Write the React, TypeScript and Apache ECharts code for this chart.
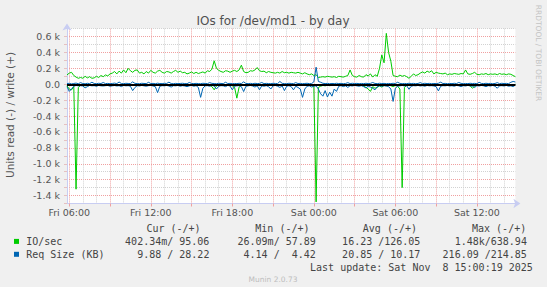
import React, { useEffect, useRef } from "react";
import * as echarts from "echarts";

// Time grid: 10-minute samples starting Fri 7 Nov 2025 05:50
const START_UTC = Date.UTC(2025, 10, 7, 5, 50);
const STEP_MINUTES = 10;
const DAY_NAMES = ["Sun", "Mon", "Tue", "Wed", "Thu", "Fri", "Sat"];

// IO/sec, write (+)
const ioWrite = [
  117, 140, 150, 110, 90, 75, 85, 75, 100, 80,
  95, 75, 80, 100, 85, 110, 95, 117, 105, 130,
  140, 160, 130, 165, 140, 180, 145, 200, 170, 150,
  175, 180, 140, 150, 130, 160, 140, 175, 150, 140,
  165, 175, 150, 140, 160, 155, 140, 160, 175, 150,
  165, 145, 150, 130, 140, 155, 135, 150, 135, 145,
  155, 140, 170, 160, 190, 295, 200, 175, 160, 150,
  170, 165, 150, 165, 175, 160, 180, 240, 160, 145,
  150, 170, 165, 180, 210, 170, 160, 165, 145, 160,
  150, 145, 140, 150, 140, 160, 145, 150, 140, 150,
  145, 140, 150, 140, 130, 145, 130, 120, 130, 110,
  120, 85, 90, 95, 90, 100, 95, 90, 95, 85,
  100, 95, 90, 100, 110, 180, 110, 95, 90, 110,
  95, 90, 120, 105, 130, 90, 120, 100, 200, 370,
  270, 640, 400, 290, 110, 100, 95, 115, 100, 110,
  95, 75, 100, 130, 110, 120, 140, 155, 140, 165,
  150, 170, 130, 150, 140, 135, 130, 140, 120, 130,
  125, 135, 130, 125, 135, 130, 180, 130, 125, 135,
  150, 125, 120, 130, 125, 135, 120, 130, 125, 130,
  120, 135, 125, 130, 120, 130, 125, 110, 95.06,
];

// IO/sec, read (-) — drawn below zero
const ioRead = [
  20, 60, 70, 30, 1320, 40, 15, 10, 20, 12,
  8, 15, 10, 18, 12, 9, 14, 10, 16, 12,
  8, 15, 11, 9, 14, 10, 13, 8, 12, 16,
  10, 9, 14, 11, 8, 12, 15, 10, 9, 13,
  11, 8, 12, 10, 14, 9, 12, 10, 15, 11,
  9, 13, 10, 12, 8, 14, 11, 9, 12, 15,
  10, 13, 9, 12, 30, 70, 20, 12, 10, 14,
  9, 12, 11, 20, 40, 175, 35, 14, 12, 9,
  13, 10, 12, 14, 11, 9, 13, 10, 12, 9,
  14, 11, 10, 13, 9, 12, 10, 14, 11, 9,
  12, 10, 13, 11, 15, 12, 10, 14, 20, 30,
  1480, 40, 25, 15, 20, 12, 18, 14, 10, 13,
  11, 9, 14, 10, 12, 9, 13, 11, 10, 14,
  12, 20, 40, 60, 90, 30, 50, 40, 20, 35,
  15, 20, 12, 18, 30, 15, 25, 60, 1300, 40,
  15, 12, 10, 14, 11, 9, 13, 10, 12, 9,
  14, 11, 10, 12, 9, 13, 11, 10, 14, 12,
  9, 11, 13, 10, 12, 9, 14, 11, 20, 50,
  25, 12, 10, 13, 9, 11, 14, 10, 12, 9,
  13, 11, 10, 12, 9, 14, 11, 10, 0.4,
];

// Req Size (KB), write (+)
const sizeWrite = [
  8, 12, 4.42, 10, 14, 7, 20, 9, 6, 12,
  8, 25, 10, 7, 12, 9, 22, 8, 11, 6,
  10, 14, 8, 28, 9, 7, 12, 10, 8, 30,
  11, 9, 7, 12, 10, 8, 24, 9, 11, 7,
  13, 9, 8, 12, 10, 26, 9, 7, 11, 8,
  10, 12, 9, 7, 22, 10, 8, 11, 9, 7,
  12, 10, 8, 20, 11, 9, 7, 12, 10, 8,
  25, 9, 11, 7, 10, 8, 12, 9, 30, 10,
  8, 11, 7, 12, 9, 10, 22, 8, 11, 9,
  7, 12, 10, 8, 35, 11, 9, 7, 12, 10,
  8, 20, 9, 11, 7, 10, 12, 8, 9, 30,
  215, 35, 25, 12, 9, 11, 7, 10, 8, 12,
  9, 11, 7, 10, 20, 8, 12, 9, 11, 7,
  10, 8, 12, 9, 11, 22, 10, 8, 12, 9,
  11, 7, 10, 8, 12, 9, 25, 11, 7, 10,
  8, 12, 9, 11, 7, 10, 20, 8, 12, 9,
  11, 7, 10, 8, 12, 26, 9, 11, 7, 10,
  8, 12, 9, 22, 11, 7, 10, 8, 12, 9,
  11, 7, 24, 10, 8, 12, 9, 11, 7, 10,
  20, 8, 12, 9, 11, 7, 25, 35, 28.22,
];

// Req Size (KB), read (-) — drawn below zero
const sizeRead = [
  30, 90, 60, 25, 15, 20, 18, 22, 45, 30,
  15, 20, 18, 25, 15, 20, 22, 18, 15, 25,
  20, 16, 22, 18, 30, 15, 20, 18, 25, 80,
  40, 18, 22, 15, 20, 25, 18, 15, 22, 30,
  105, 25, 18, 20, 15, 22, 35, 18, 20, 15,
  25, 18, 22, 30, 20, 15, 25, 18, 40, 165,
  50, 20, 18, 25, 15, 22, 60, 25, 18, 20,
  30, 15, 22, 70, 25, 20, 18, 30, 92, 25,
  20, 15, 22, 35, 18, 70, 20, 25, 18, 30,
  60, 20, 15, 25, 40, 20, 80, 25, 18, 30,
  70, 25, 40, 60, 165, 60, 25, 20, 35, 25,
  20, 60, 120, 150, 80, 160, 100, 150, 60, 90,
  25, 18, 30, 20, 40, 18, 22, 15, 20, 25,
  18, 30, 45, 25, 35, 50, 70, 30, 20, 25,
  18, 22, 30, 60, 216, 50, 25, 20, 15, 22,
  18, 63, 25, 18, 20, 15, 22, 18, 25, 15,
  20, 18, 22, 30, 84, 25, 18, 20, 15, 22,
  18, 25, 15, 20, 30, 18, 22, 15, 20, 25,
  40, 18, 22, 15, 20, 30, 18, 22, 15, 25,
  50, 20, 18, 22, 15, 25, 20, 30, 9.88,
];

// Legend table
const legendNames = ["IO/sec", "Req Size (KB)"];
const legendColors = ["#00CC00", "#0066B3"];
const legendHeaders = ["Cur (-/+)", "Min (-/+)", "Avg (-/+)", "Max (-/+)"];
const legendCur = ["402.34m/ 95.06", "9.88 / 28.22"];
const legendMin = ["26.09m/ 57.89", "4.14 /  4.42"];
const legendAvg = ["16.23 /126.05", "20.85 / 10.17"];
const legendMax = ["1.48k/638.94", "216.09 /214.85"];

const TITLE = "IOs for /dev/md1 - by day";
const Y_NAME = "Units read (-) / write (+)";
const LAST_UPDATE = "Last update: Sat Nov  8 15:00:19 2025";
const FOOTER = "Munin 2.0.73";
const SIDE_TEXT = "RRDTOOL / TOBI OETIKER";

const pad = (n: number) => (n < 10 ? "0" + n : "" + n);
const categories = ioWrite.map((_, i) => {
  const d = new Date(START_UTC + i * STEP_MINUTES * 60000);
  return `${DAY_NAMES[d.getUTCDay()]} ${pad(d.getUTCHours())}:${pad(d.getUTCMinutes())}`;
});

const GREY = "#d2d2d2";
const RED = "#f0a0a0";
const AXIS = "#c8cdf2";
const TEXT = "#444444";
const MONO = '"DejaVu Sans Mono", monospace';
const SANS = '"DejaVu Sans", sans-serif';

export default function App() {
  const ref = useRef<HTMLDivElement>(null);

  useEffect(() => {
    if (!ref.current) return;
    const chart = echarts.init(ref.current, undefined, { renderer: "svg" });

    const headerRight = [200.6, 309.5, 417, 526.2];
    const valueRight = [209.4, 315.8, 420.4, 526.9];
    const rowY = [241.4, 254.3];
    const cols = [legendCur, legendMin, legendAvg, legendMax];

    const graphics: any[] = [];
    graphics.push({
      type: "text", x: 273, y: 21,
      style: { text: TITLE, font: `12px ${SANS}`, fill: "#505050", align: "center", verticalAlign: "middle" },
    });
    graphics.push({
      type: "text", x: 10, y: 115, rotation: Math.PI / 2,
      style: { text: Y_NAME, font: `10.5px ${SANS}`, fill: "#555555", align: "center", verticalAlign: "middle" },
    });
    graphics.push({
      type: "text", x: 538, y: 53, rotation: -Math.PI / 2,
      style: { text: SIDE_TEXT, font: `7.5px ${SANS}`, fill: "#c4c4c4", align: "center", verticalAlign: "middle" },
    });
    legendHeaders.forEach((h, c) => {
      graphics.push({
        type: "text", x: headerRight[c], y: 228.8,
        style: { text: h, font: `10px ${MONO}`, fill: TEXT, align: "right", verticalAlign: "middle" },
      });
    });
    legendNames.forEach((name, r) => {
      graphics.push({
        type: "rect", shape: { x: 14, y: rowY[r] - 2.5, width: 5, height: 5 },
        style: { fill: legendColors[r] },
      });
      graphics.push({
        type: "text", x: 26.2, y: rowY[r],
        style: { text: name, font: `10px ${MONO}`, fill: TEXT, align: "left", verticalAlign: "middle" },
      });
      cols.forEach((col, c) => {
        graphics.push({
          type: "text", x: valueRight[c], y: rowY[r],
          style: { text: col[r], font: `10px ${MONO}`, fill: TEXT, align: "right", verticalAlign: "middle" },
        });
      });
    });
    graphics.push({
      type: "text", x: 532.8, y: 267.2,
      style: { text: LAST_UPDATE, font: `10px ${MONO}`, fill: TEXT, align: "right", verticalAlign: "middle" },
    });
    graphics.push({
      type: "text", x: 273, y: 279.8,
      style: { text: FOOTER, font: `7.5px ${SANS}`, fill: "#bdbdbd", align: "center", verticalAlign: "middle" },
    });

    const lineSeries = (name: string, data: number[], color: string, extra: any = {}) => ({
      name, type: "line", data, symbol: "none", showSymbol: false,
      lineStyle: { color, width: 1 }, itemStyle: { color },
      emphasis: { disabled: true }, silent: true, clip: true, ...extra,
    });

    chart.setOption({
      animation: false,
      backgroundColor: "#F0F0F0",
      grid: {
        left: 67, right: 31.6, top: 28.6, bottom: 83.5,
        show: true, backgroundColor: "#FFFFFF", borderWidth: 0,
      },
      xAxis: {
        type: "category",
        data: categories,
        boundaryGap: false,
        axisLine: {
          show: true, onZero: false,
          lineStyle: { color: AXIS, width: 1 },
          symbol: ["none", "arrow"], symbolSize: [7, 7], symbolOffset: [0, 5],
        },
        axisTick: {
          show: true, length: 3,
          interval: (i: number) => (i - 1) % 18 === 0,
          lineStyle: { color: RED },
        },
        axisLabel: {
          interval: (i: number) => (i - 1) % 36 === 0,
          color: "#555555", fontFamily: SANS, fontSize: 9.5, margin: 4,
        },
        splitLine: {
          show: true,
          interval: (i: number) => (i - 1) % 6 === 0,
          lineStyle: { color: [RED, GREY, GREY], type: [1, 1], width: 1 },
        },
      },
      yAxis: {
        type: "value",
        min: -1500, max: 700, interval: 100,
        axisLine: {
          show: true, onZero: false,
          lineStyle: { color: AXIS, width: 1 },
          symbol: ["none", "arrow"], symbolSize: [7, 7], symbolOffset: [0, 5],
        },
        axisTick: { show: true, length: 3, lineStyle: { color: "#e6c0c0" } },
        axisLabel: {
          color: "#555555", fontFamily: SANS, fontSize: 9.5, margin: 7,
          formatter: (v: number) => {
            if (Math.round(v) % 200 !== 0) return "";
            if (v === 0) return "0.0";
            return (v / 1000).toFixed(1) + " k";
          },
        },
        splitLine: {
          show: true,
          lineStyle: { color: [GREY, RED], type: [1, 1], width: 1 },
        },
      },
      series: [
        lineSeries("IO/sec read", ioRead.map((v) => -v), "#00CC00"),
        lineSeries("IO/sec write", ioWrite, "#00CC00"),
        lineSeries("Req Size read", sizeRead.map((v) => -v), "#0066B3"),
        lineSeries("Req Size write", sizeWrite, "#0066B3", {
          markLine: {
            silent: true, symbol: ["none", "none"], label: { show: false },
            lineStyle: { color: "#000000", width: 2, type: "solid" },
            data: [{ yAxis: 0 }],
          },
        }),
      ],
      graphic: graphics,
    });

    return () => chart.dispose();
  }, []);

  return (
    <div
      ref={ref}
      style={{ position: "fixed", left: 0, top: 0, width: 547, height: 287, background: "#F0F0F0" }}
    />
  );
}
